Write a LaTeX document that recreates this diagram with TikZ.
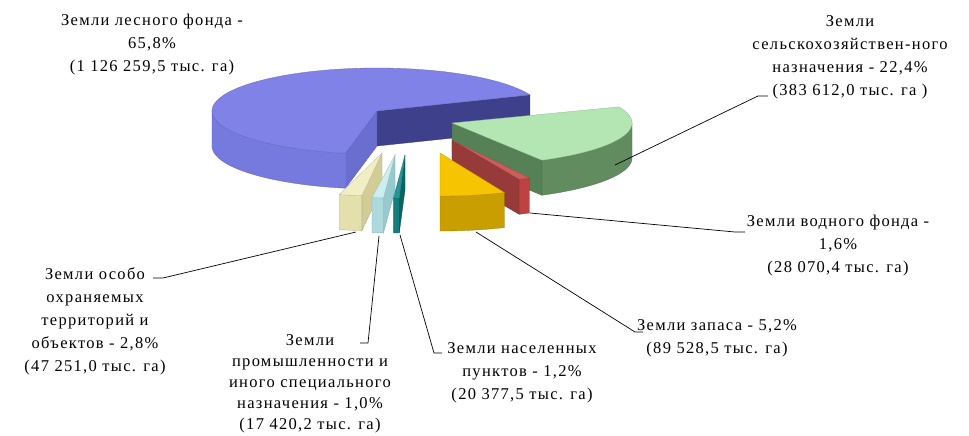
\documentclass[tikz,border=0pt]{standalone}
\usepackage{fontspec}
\setmainfont{Liberation Serif}[LetterSpace=8]
\definecolor{bTop}{RGB}{128,130,232}
\definecolor{bRim}{RGB}{118,122,222}
\definecolor{bWallF}{RGB}{106,110,206}
\definecolor{bWallB}{RGB}{62,64,140}
\definecolor{gTop}{RGB}{180,230,180}
\definecolor{gRim}{RGB}{96,140,96}
\definecolor{gWall}{RGB}{86,128,86}
\definecolor{rTop}{RGB}{205,92,92}
\definecolor{rRim}{RGB}{190,66,66}
\definecolor{rWall}{RGB}{150,58,58}
\definecolor{yTop}{RGB}{246,196,0}
\definecolor{yRim}{RGB}{200,158,0}
\definecolor{tTop}{RGB}{40,150,150}
\definecolor{tRim}{RGB}{20,125,125}
\definecolor{tWall}{RGB}{10,100,100}
\definecolor{cTop}{RGB}{205,238,238}
\definecolor{cRim}{RGB}{172,218,220}
\definecolor{cWall}{RGB}{150,202,206}
\definecolor{eTop}{RGB}{242,238,195}
\definecolor{eRim}{RGB}{228,224,172}
\definecolor{eWall}{RGB}{210,205,150}
\def\RX{165}\def\RY{43}\def\H{35}
\newcommand\slwall[4]{\fill[#4,draw=#4!80!black,line width=0.3pt] (#1,#2) -- ({#1+\RX*cos(#3)},{#2-\RY*sin(#3)}) -- ({#1+\RX*cos(#3)},{#2-\RY*sin(#3)+\H}) -- (#1,{#2+\H}) -- cycle;}
\newcommand\slrim[5]{\fill[#5,draw=#5!80!black,line width=0.3pt] plot[domain=#3:#4,samples=40,variable=\t] ({#1+\RX*cos(\t)},{#2-\RY*sin(\t)}) -- plot[domain=#4:#3,samples=40,variable=\t] ({#1+\RX*cos(\t)},{#2-\RY*sin(\t)+\H}) -- cycle;}
\newcommand\sltop[5]{\fill[#5,draw=#5!80!black,line width=0.3pt] (#1,#2) -- plot[domain=#3:#4,samples=60,variable=\t] ({#1+\RX*cos(\t)},{#2-\RY*sin(\t)}) -- cycle;}
\tikzset{
  lbl/.style={align=center, inner sep=0pt, font=\fontsize{16.5}{23}\selectfont},
  leader/.style={draw=black, line width=0.7pt}
}
\begin{document}
\begin{tikzpicture}[x=1pt,y=-1pt]
\useasboundingbox (0,0) rectangle (969,436);
\fill[white] (0,0) rectangle (969,436);
% forest (blue)
\slwall{377}{111}{22}{bWallB}
\slwall{377}{111}{259}{bWallF}
\slrim{377}{111}{180}{259}{bRim}
\sltop{377}{111}{22}{259}{bTop}
% agriculture (green)
\def\RX{180}
\slwall{452}{123}{300}{gWall}
\slrim{452}{123}{300}{360}{gRim}
\sltop{452}{123}{300}{382}{gTop}
\def\RX{165}
% water (red)
\slwall{452}{140}{294}{rWall}
\slrim{452}{140}{294}{298}{rRim}
\sltop{452}{140}{294}{298}{rTop}
% protected (beige)
\slwall{382}{153}{263}{eWall}
\slrim{382}{153}{255}{263}{eRim}
\sltop{382}{153}{255}{263}{eTop}
% industry (cyan)
\slwall{395}{155}{266}{cWall}
\slrim{395}{155}{262}{266}{cRim}
\sltop{395}{155}{262}{266}{cTop}
% settlements (teal)
\slwall{405}{155}{268}{tWall}
\slrim{405}{155}{266}{268}{tRim}
\sltop{405}{155}{266}{268}{tTop}
% reserve (yellow)
\slrim{440}{153}{270}{293}{yRim}
\sltop{440}{153}{270}{293}{yTop}

% labels
\node[lbl] (forest) at (152,45) {Земли лесного фонда -\\65,8\%\\(1 126 259,5 тыс. га)};
\node[lbl] (agri) at (850,57) {Земли\\сельскохозяйствен-ного\\назначения - 22,4\%\\(383 612,0 тыс. га )};
\node[lbl] (water) at (838,246) {Земли водного фонда -\\1,6\%\\(28 070,4 тыс. га)};
\node[lbl] (reserve) at (717,338) {Земли запаса - 5,2\%\\(89 528,5 тыс. га)};
\node[lbl] (settl) at (522,373) {Земли населенных\\пунктов - 1,2\%\\(20 377,5 тыс. га)};
\node[lbl, font=\fontsize{16.5}{21}\selectfont] (indus) at (310,384) {Земли\\промышленности и\\иного специального\\назначения - 1,0\%\\(17 420,2 тыс. га)};
\node[lbl] (prot) at (95,321) {Земли особо\\охраняемых\\территорий и\\объектов - 2,8\%\\(47 251,0 тыс. га)};

% leader anchors
\coordinate (sAgri) at (615,165);
\coordinate (eAgri) at (768,96);
\coordinate (sWater) at (530,213);
\coordinate (eWater) at (745,232);
\coordinate (sRes) at (476,232);
\coordinate (eRes) at (643,332);
\coordinate (sSet) at (400,235);
\coordinate (eSet) at (442,353);
\coordinate (sInd) at (379,236);
\coordinate (eInd) at (360,343);
\coordinate (sProt) at (356,232);
\coordinate (eProt) at (153,278);
\draw[leader] (sAgri) -- ([xshift=-10pt]eAgri) -- (eAgri);
\draw[leader] (sWater) -- ([xshift=-10pt]eWater) -- (eWater);
\draw[leader] (sRes) -- ([xshift=-8pt]eRes) -- (eRes);
\draw[leader] (sSet) -- ([xshift=-8pt]eSet) -- (eSet);
\draw[leader] (sInd) -- ([xshift=8pt]eInd) -- (eInd);
\draw[leader] (sProt) -- ([xshift=10pt]eProt) -- (eProt);
\end{tikzpicture}
\end{document}
